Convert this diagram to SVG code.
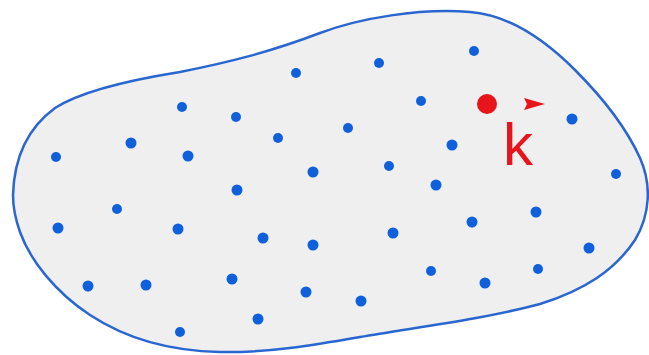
<svg xmlns="http://www.w3.org/2000/svg" width="649" height="355" viewBox="0 0 649 355">
<style>
.d{fill:#1060dc}
.r{fill:#e8141c}
</style>
<rect width="649" height="355" fill="#ffffff"/>
<g id="region">
<path d="M 13,195 C 14,160 25,130 55,108 C 80,92 130,80 180,72 C 230,62 270,52 320,33 C 360,18 420,8 470,12 C 510,15 545,40 575,70 C 600,95 625,125 640,158 C 652,185 650,215 635,240 C 615,270 585,290 540,304 C 480,320 410,328 360,337 C 320,344 270,353 220,352 C 170,351 125,338 90,315 C 55,292 30,260 20,232 C 14,215 13,205 13,195 Z" fill="#efefef" stroke="#2a66d0" stroke-width="2.5"/>
</g>
<g id="points">
<circle class="d" cx="474" cy="51" r="5"/>
<circle class="d" cx="379" cy="63" r="5"/>
<circle class="d" cx="296" cy="73" r="5"/>
<circle class="d" cx="182" cy="107" r="5"/>
<circle class="d" cx="236" cy="117" r="5"/>
<circle class="d" cx="421" cy="101" r="5"/>
<circle class="d" cx="348" cy="128" r="5"/>
<circle class="d" cx="278" cy="138" r="5"/>
<circle class="d" cx="131" cy="143" r="5.5"/>
<circle class="d" cx="56" cy="157" r="5"/>
<circle class="d" cx="188" cy="156" r="5.5"/>
<circle class="d" cx="452" cy="145" r="5.5"/>
<circle class="d" cx="572" cy="119" r="5.5"/>
<circle class="d" cx="389" cy="166" r="5"/>
<circle class="d" cx="313" cy="172" r="5.5"/>
<circle class="d" cx="616" cy="174" r="5"/>
<circle class="d" cx="436" cy="185" r="5.5"/>
<circle class="d" cx="237" cy="190" r="5.5"/>
<circle class="d" cx="117" cy="209" r="5"/>
<circle class="d" cx="536" cy="212" r="5.5"/>
<circle class="d" cx="58" cy="228" r="5.5"/>
<circle class="d" cx="178" cy="229" r="5.5"/>
<circle class="d" cx="472" cy="222" r="5.5"/>
<circle class="d" cx="263" cy="238" r="5.5"/>
<circle class="d" cx="313" cy="245" r="5.5"/>
<circle class="d" cx="393" cy="233" r="5.5"/>
<circle class="d" cx="589" cy="248" r="5.5"/>
<circle class="d" cx="431" cy="271" r="5"/>
<circle class="d" cx="538" cy="269" r="5"/>
<circle class="d" cx="485" cy="283" r="5.5"/>
<circle class="d" cx="88" cy="286" r="5.5"/>
<circle class="d" cx="146" cy="285" r="5.5"/>
<circle class="d" cx="232" cy="279" r="5.5"/>
<circle class="d" cx="306" cy="292" r="5.5"/>
<circle class="d" cx="361" cy="301" r="5.5"/>
<circle class="d" cx="258" cy="319" r="5.5"/>
<circle class="d" cx="180" cy="332" r="5"/>
</g>
<g id="k-point">
<circle class="r" cx="487" cy="104" r="10"/>
<polygon class="r" points="524,98 545,104 524,110 527,104"/>
<text x="503" y="165" font-family="Liberation Sans, Arial, sans-serif" font-size="60" fill="#e8141c">k</text>
</g>
</svg>
